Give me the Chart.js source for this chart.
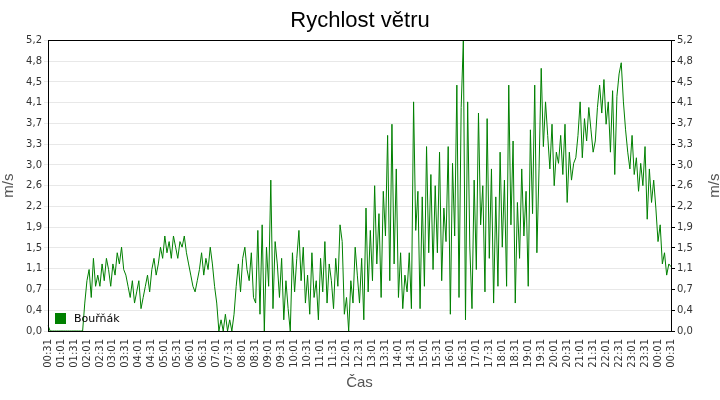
<!DOCTYPE html>
<html><head><meta charset="utf-8">
<script src="https://cdn.jsdelivr.net/npm/chart.js@4/dist/chart.umd.min.js"></script>
<style>html,body{margin:0;padding:0;background:#fff}#w{width:720px;height:400px}</style>
</head><body><div id="w"><canvas id="c"></canvas></div>
<script>
const seriesName = 'Bouřňák';
const windSpeed = [
0.1,0,0,0,0,0,0,0,0,0,0,0,
0,0,0,0,0,0.5,0.9,1.1,0.6,1.3,0.8,1.0,
0.8,1.2,0.9,1.3,1.1,0.8,1.2,1.0,1.4,1.2,1.5,1.1,
1.0,0.8,0.6,0.9,0.5,0.7,0.9,0.4,0.6,0.8,1.0,0.7,
1.1,1.3,1.0,1.2,1.5,1.3,1.7,1.4,1.6,1.3,1.7,1.5,
1.3,1.6,1.5,1.7,1.4,1.2,1.0,0.8,0.7,0.9,1.1,1.4,
1.0,1.3,1.1,1.5,1.2,0.8,0.5,0.0,0.2,0.0,0.3,0.0,
0.2,0,0.3,0.8,1.2,0.7,1.3,1.5,1.1,0.9,1.4,0.6,
0.5,1.8,0.3,1.9,0.0,1.5,0.8,2.7,0.4,1.6,1.2,0.6,
1.3,0.2,0.9,0.4,0.0,1.4,0.7,1.3,1.8,0.9,1.5,0.5,
1.0,0.3,1.4,0.6,0.9,0.2,1.3,0.7,1.6,0.5,1.2,0.9,
0.4,1.3,0.8,1.9,1.6,0.3,0.6,0.0,0.9,0.5,1.5,1.0,
0.5,1.3,0.2,2.2,0.7,1.8,0.9,2.6,1.2,2.1,0.6,2.5,
1.7,3.5,0.9,3.7,1.2,2.9,0.6,1.4,0.4,1.0,0.7,1.4,
0.4,4.1,1.8,2.5,0.4,2.4,0.8,3.3,1.4,2.8,1.1,2.6,
1.4,3.2,0.9,2.2,1.6,3.3,0.3,3.0,1.7,4.4,0.6,4.0,
5.2,0.2,4.1,1.5,0.4,2.7,1.1,3.9,1.9,2.6,0.7,3.8,
1.3,2.9,0.5,2.4,0.8,3.2,1.5,2.7,0.8,4.4,1.9,3.4,
0.5,2.3,1.3,2.9,1.7,2.5,0.8,3.6,2.1,4.4,1.4,2.9,
4.7,3.3,4.1,3.5,2.9,3.7,2.6,3.2,3.0,3.5,2.8,3.7,
2.3,3.2,2.7,3.0,3.1,3.5,4.1,3.1,3.8,3.4,4.0,3.6,
3.2,3.4,4.0,4.4,3.9,4.5,3.7,4.1,3.2,4.3,2.8,4.2,
4.6,4.8,4.1,3.6,3.2,2.9,3.5,2.8,3.1,2.5,3.0,2.6,
3.3,2.0,2.9,2.3,2.7,2.2,1.6,1.9,1.2,1.4,1.0,1.2,
1.15];
const hourLabels = ['00','01','02','03','04','05','06','07','08','09','10','11','12','13','14','15','16','17','18','19','20','21','22','23'];
const minuteLabels = ['31','36','41','46','51','56','01','06','11','16','21','26'];
const yTickLabels = ['0,0','0,4','0,7','1,1','1,5','1,9','2,2','2,6','3,0','3,3','3,7','4,1','4,5','4,8','5,2'];
const yMax = 5.2;

const labels = [];
for (let h = 0; h < 24; h++) for (let m = 0; m < 12; m++) {
  const hh = m < 6 ? hourLabels[h] : hourLabels[(h + 1) % 24];
  labels.push(hh + ':' + minuteLabels[m]);
}
labels.push('00:31');

const font = {family: 'DejaVu Sans', size: 10};
function yTicks(ax){ ax.ticks = yTickLabels.map((l,i)=>({value: i*yMax/(yTickLabels.length-1)})); }
const yCb = (v, i) => yTickLabels[i];

const legendPlugin = {
  id: 'lg',
  afterDatasetsDraw(ch){
    const c = ch.ctx, a = ch.chartArea;
    c.save();
    c.fillStyle = '#008000';
    c.fillRect(a.left + 7, a.bottom - 18, 11, 11);
    c.fillStyle = '#000';
    c.font = '11px "DejaVu Sans"';
    c.textBaseline = 'middle';
    c.fillText(seriesName, a.left + 26, a.bottom - 12);
    c.restore();
  }
};
const borderPlugin = {
  id: 'bd',
  afterDraw(ch){
    const c = ch.ctx, a = ch.chartArea;
    c.save(); c.strokeStyle = '#000'; c.lineWidth = 1;
    c.strokeRect(Math.round(a.left)+0.5, Math.round(a.top)+0.5, Math.round(a.width), Math.round(a.height));
    c.translate(a.right + 44, (a.top + a.bottom) / 2);
    c.rotate(-Math.PI / 2);
    c.fillStyle = '#555'; c.font = '15px "Liberation Sans"';
    c.textAlign = 'center'; c.textBaseline = 'middle';
    c.fillText('m/s', 0, 0);
    c.restore();
  }
};

new Chart(document.getElementById('c'), {
  type: 'line',
  data: { labels, datasets: [{ data: windSpeed, borderColor: '#008000', borderWidth: 1, pointRadius: 0, tension: 0, fill: false }] },
  options: {
    responsive: true, maintainAspectRatio: false, animation: false,
    layout: { padding: { top: 4, right: 0, left: 0, bottom: 4 } },
    plugins: {
      legend: { display: false }, tooltip: { enabled: false },
      title: { display: true, text: 'Rychlost větru', color: '#000', font: {family: 'Liberation Sans', size: 22, weight: 'normal'}, padding: {top: 4, bottom: 6} }
    },
    scales: {
      x: {
        offset: false,
        grid: { display: false, drawTicks: true, tickLength: 5, color: '#000' },
        border: { color: '#000' },
        ticks: { autoSkip: false, maxRotation: 90, minRotation: 90, color: '#333', font,
          callback: (v, i) => i % 6 === 0 ? labels[i] : null },
        title: { display: true, text: 'Čas', color: '#555', font: {family: 'Liberation Sans', size: 15}, padding: {top: 0} },
        afterFit: ax => { ax.height = 65; }
      },
      y: {
        position: 'left', min: 0, max: yMax,
        afterBuildTicks: yTicks,
        grid: { color: '#e8e8e8', tickLength: 4 },
        border: { color: '#000' },
        ticks: { color: '#333', font, padding: 2, callback: yCb },
        title: { display: true, text: 'm/s', color: '#555', font: {family: 'Liberation Sans', size: 15}, padding: 0 },
        afterFit: ax => { ax.width = 48; }
      },
      y2: {
        position: 'right', min: 0, max: yMax,
        afterBuildTicks: yTicks,
        grid: { drawOnChartArea: false, tickLength: 4, color: '#000' },
        border: { color: '#000' },
        ticks: { color: '#333', font, padding: 2, callback: yCb },
        title: { display: false },
        afterFit: ax => { ax.width = 49; }
      }
    }
  },
  plugins: [legendPlugin, borderPlugin]
});
</script></body></html>
